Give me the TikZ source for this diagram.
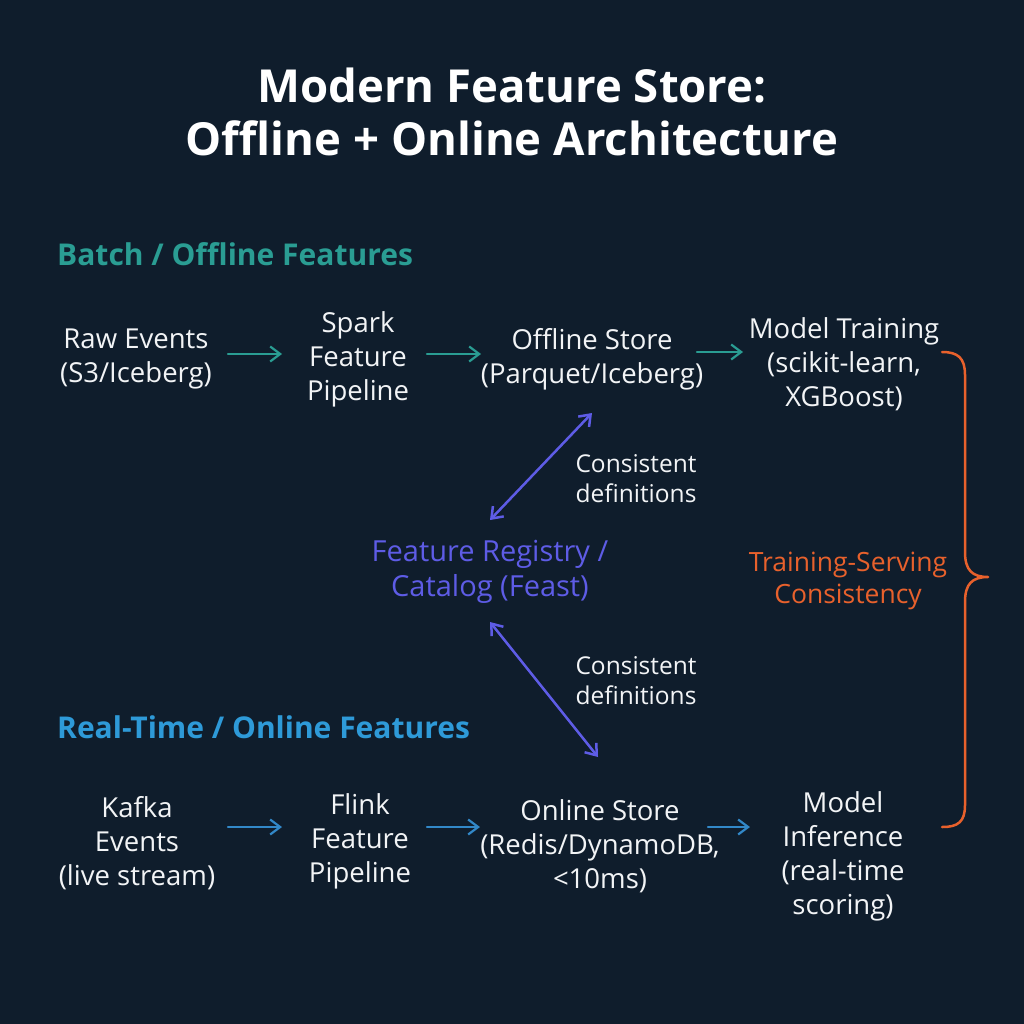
\documentclass[tikz,border=0pt]{standalone}
\usepackage{fontspec}
\setmainfont{Open Sans}
\usetikzlibrary{arrows.meta}
\definecolor{bgnavy}{HTML}{0F1D2C}
\definecolor{txtwhite}{HTML}{F2F4F6}
\definecolor{tealc}{HTML}{2A9D93}
\definecolor{bluec}{HTML}{2E9AD8}
\definecolor{arrowblue}{HTML}{3288C8}
\definecolor{purplec}{HTML}{5E5CE6}
\definecolor{orangec}{HTML}{E8612C}
\begin{document}
\begin{tikzpicture}[x=1pt, y=-1pt, line join=round, line cap=round, >={Straight Barb[length=10pt,width=15pt]},
  txt/.style={text=txtwhite, align=center, inner sep=0pt, font=\fontsize{27.5}{34}\selectfont},
  note/.style={text=txtwhite, align=center, inner sep=0pt, font=\fontsize{24.5}{30}\selectfont},
  head/.style={anchor=west, inner sep=0pt, font=\fontsize{30}{36}\selectfont\bfseries},
  flow/.style={->, line width=2.2pt},
  dbl/.style={<->, line width=2.5pt, purplec}]
\fill[bgnavy] (0,0) rectangle (1024,1024);
\node[text=white, align=center, inner sep=0pt, font=\fontsize{45.5}{53}\selectfont\bfseries] (title) at (512,112) {Modern Feature Store:\\Offline + Online Architecture};
\node[head, text=tealc] (batch) at (57,254) {Batch / Offline Features};
\node[head, text=bluec] (rt) at (57,727) {Real-Time / Online Features};
% batch row
\node[txt] (raw) at (136,359) {Raw Events\\(S3/Iceberg)};
\node[txt] (spark) at (358,359) {Spark\\Feature\\Pipeline};
\node[txt] (off) at (592,359) {Offline Store\\(Parquet/Iceberg)};
\node[txt] (train) at (844,364) {Model Training\\(scikit-learn,\\XGBoost)};
\draw[flow, tealc] ([xshift=92pt,yshift=5pt]raw.center) -- ([xshift=-76pt,yshift=5pt]spark.center);
\draw[flow, tealc] ([xshift=69pt,yshift=5pt]spark.center) -- ([xshift=-111pt,yshift=5pt]off.center);
\draw[flow, tealc] ([xshift=105pt,yshift=7pt]off.center) -- ([xshift=-101pt,yshift=12pt]train.center);
% online row
\node[txt] (kafka) at (137,843) {Kafka\\Events\\(live stream)};
\node[txt] (flink) at (360,841) {Flink\\Feature\\Pipeline};
\node[txt] (onl) at (600,846) {Online Store\\(Redis/DynamoDB,\\<10ms)};
\node[txt] (inf) at (843,856) {Model\\Inference\\(real-time\\scoring)};
\draw[flow, arrowblue] ([xshift=91pt,yshift=16pt]kafka.center) -- ([xshift=-78pt,yshift=14pt]flink.center);
\draw[flow, arrowblue] ([xshift=67pt,yshift=14pt]flink.center) -- ([xshift=-120pt,yshift=19pt]onl.center);
\draw[flow, arrowblue] ([xshift=108pt,yshift=19pt]onl.center) -- ([xshift=-93pt,yshift=29pt]inf.center);
% registry
\node[txt, text=purplec, font=\fontsize{29}{35}\selectfont] (reg) at (490,572) {Feature Registry /\\Catalog (Feast)};
\node[note] (c1) at (636,479) {Consistent\\definitions};
\node[note] (c2) at (636,681) {Consistent\\definitions};
\draw[dbl] ([yshift=-54pt]off.center) -- ([yshift=52pt]reg.center);
\draw[dbl] ([yshift=-50pt]reg.center) -- ([xshift=-2pt,yshift=89pt]onl.center);
% consistency brace
\node[txt, text=orangec, font=\fontsize{26.5}{32}\selectfont] (tsc) at (848,581) {Training-Serving\\Consistency};
\draw[orangec, line width=2.5pt] (942,352) .. controls (958,352) and (965,358) .. (965,375) -- (965,552) .. controls (965,570) and (972,577) .. (988,577) .. controls (972,577) and (965,584) .. (965,602) -- (965,805) .. controls (965,822) and (958,827) .. (942,827);
\end{tikzpicture}
\end{document}
